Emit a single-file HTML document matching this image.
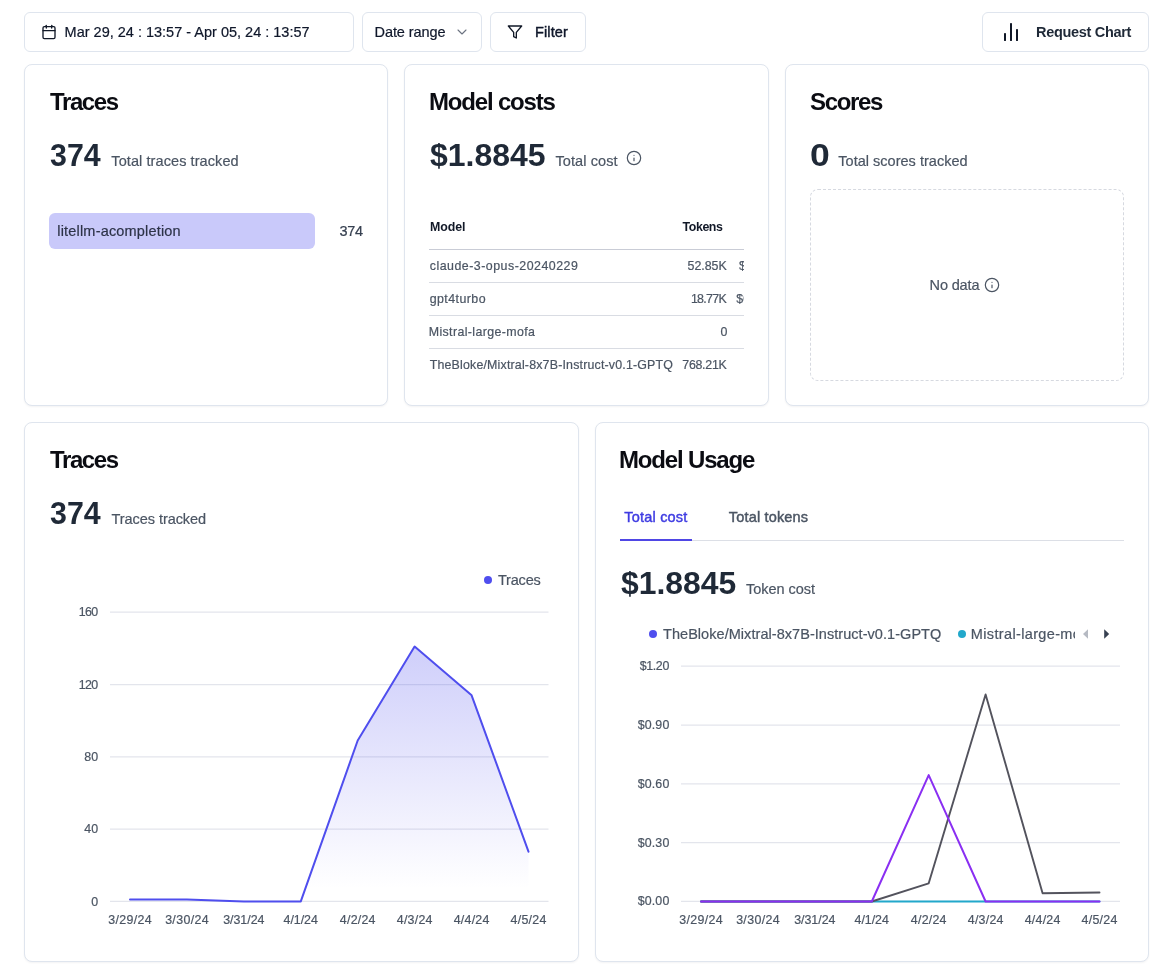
<!DOCTYPE html>
<html lang="en">
<head>
<meta charset="utf-8">
<title>Dashboard</title>
<style>
*{box-sizing:border-box;margin:0;padding:0}
html,body{width:1160px;height:971px;background:#fff;overflow:hidden}
body{position:relative;font-family:"Liberation Sans", Arial, sans-serif;color:#4b5563;-webkit-font-smoothing:antialiased}
.t{position:absolute;white-space:nowrap;line-height:1;display:block}
.abs{position:absolute}
.btn{position:absolute;top:12px;height:40px;border:1px solid #dfe5ee;border-radius:6px;background:#fff}
.card{position:absolute;border:1px solid #dfe5ee;border-radius:8px;background:#fff;box-shadow:0 1px 2px rgba(15,23,42,.05)}
svg{position:absolute;overflow:visible}
button{font:inherit;color:inherit;padding:0;margin:0;cursor:pointer}
h2{margin:0}
.hr{position:absolute;height:1px;background:#d9dce3}
</style>
</head>
<body>
<header>
<button class="btn" style="left:24px;width:330px" type="button"><svg style="left:16px;top:11px" width="16" height="16" viewBox="0 0 24 24" fill="none" stroke="#111827" stroke-width="2" stroke-linecap="round" stroke-linejoin="round"><rect x="3" y="4" width="18" height="18" rx="2" ry="2"/><line x1="16" y1="2" x2="16" y2="6"/><line x1="8" y1="2" x2="8" y2="6"/><line x1="3" y1="10" x2="21" y2="10"/></svg><span class="t" style="left:39.60px;top:12px;font-size:14.5px;font-weight:400;color:#0f172a;letter-spacing:-0.002px;-webkit-text-stroke:0.2px #0f172a">Mar 29, 24 : 13:57 - Apr 05, 24 : 13:57</span></button>
<button class="btn" style="left:362px;width:120px" type="button"><span class="t" style="left:11.60px;top:12px;font-size:14.5px;font-weight:400;color:#0f172a;letter-spacing:-0.098px;-webkit-text-stroke:0.2px #0f172a">Date range</span><svg style="left:91px;top:11px" width="16" height="16" viewBox="0 0 24 24" fill="none" stroke="#6b7280" stroke-width="1.6" stroke-linecap="round" stroke-linejoin="round"><path d="m6 9 6 6 6-6"/></svg></button>
<button class="btn" style="left:490px;width:96px" type="button"><svg style="left:16px;top:11px" width="16" height="16" viewBox="0 0 24 24" fill="none" stroke="#111827" stroke-width="2" stroke-linecap="round" stroke-linejoin="round"><polygon points="22 3 2 3 10 12.46 10 19 14 21 14 12.46 22 3"/></svg><span class="t" style="left:44.00px;top:12px;font-size:14.5px;font-weight:400;color:#0f172a;letter-spacing:0.121px;-webkit-text-stroke:0.42px #0f172a">Filter</span></button>
<button class="btn" style="left:982px;width:167px" type="button"><svg style="left:0;top:0" width="60" height="40" viewBox="0 0 60 40"><g fill="#111827"><rect x="21" y="20" width="2" height="8" rx=".4"/><rect x="27" y="10" width="2" height="18" rx=".4"/><rect x="33" y="16" width="2" height="12" rx=".4"/></g></svg><span class="t" style="left:53.00px;top:12px;font-size:14.5px;font-weight:700;color:#1f2937;letter-spacing:-0.314px">Request Chart</span></button>
</header>
<main>
<section class="card" style="left:24px;top:64px;width:364px;height:342px">
<h2 class="t" style="left:25.00px;top:25px;font-size:24px;font-weight:700;color:#0b0c12;letter-spacing:-1.384px">Traces</h2>
<span class="t" style="left:25.10px;top:75px;font-size:31px;font-weight:700;color:#1f2937;transform:scaleX(0.9794);transform-origin:0 0">374</span>
<span class="t" style="left:86.30px;top:89px;font-size:14.5px;font-weight:400;color:#4b5563;letter-spacing:0.086px;-webkit-text-stroke:0.2px #4b5563">Total traces tracked</span>
<div class="abs" style="left:24px;top:148px;width:266px;height:36px;border-radius:6px;background:#c9c9fa"></div>
<span class="t" style="left:32.30px;top:159px;font-size:14.5px;font-weight:400;color:#2d3348;letter-spacing:0.183px;-webkit-text-stroke:0.2px #2d3348">litellm-acompletion</span>
<span class="t" style="left:314.60px;top:159px;font-size:14.5px;font-weight:400;color:#374151;letter-spacing:-0.364px;-webkit-text-stroke:0.2px #374151">374</span>
</section>
<section class="card" style="left:404px;top:64px;width:365px;height:342px">
<h2 class="t" style="left:24.00px;top:25px;font-size:24px;font-weight:700;color:#0b0c12;letter-spacing:-1.184px">Model costs</h2>
<span class="t" style="left:25.40px;top:75px;font-size:31px;font-weight:700;color:#1f2937;transform:scaleX(1.0320);transform-origin:0 0">$1.8845</span>
<span class="t" style="left:150.50px;top:89px;font-size:14.5px;font-weight:400;color:#4b5563;letter-spacing:0.087px;-webkit-text-stroke:0.2px #4b5563">Total cost</span>
<svg style="left:221px;top:85.3px" width="16" height="16" viewBox="0 0 24 24" fill="none" stroke="#4b5563" stroke-width="1.8" stroke-linecap="round" stroke-linejoin="round"><circle cx="12" cy="12" r="10"/><path d="M12 16v-4"/><path d="M12 8h.01"/></svg>
<div class="abs" style="left:24px;top:140px;width:315px;height:180px;overflow:hidden">
<span class="t" style="left:1.00px;top:16px;font-size:12.4px;font-weight:700;color:#111827;letter-spacing:-0.087px">Model</span>
<span class="t" style="left:253.60px;top:16px;font-size:12.4px;font-weight:700;color:#111827;letter-spacing:-0.434px">Tokens</span>
<div class="hr" style="left:0;top:44px;width:315px;background:#c9ccd6"></div>
<span class="t" style="left:0.70px;top:55px;font-size:12.4px;font-weight:400;color:#4b5563;letter-spacing:0.496px;-webkit-text-stroke:0.2px #4b5563">claude-3-opus-20240229</span><span class="t" style="left:258.50px;top:55px;font-size:12.4px;font-weight:400;color:#4b5563;letter-spacing:-0.001px;-webkit-text-stroke:0.2px #4b5563">52.85K</span><span class="t" style="left:309.90px;top:55px;font-size:12.4px;font-weight:400;color:#4b5563;-webkit-text-stroke:0.2px #4b5563">$1.5</span>
<div class="hr" style="left:0;top:77px;width:315px"></div>
<span class="t" style="left:0.70px;top:88px;font-size:12.4px;font-weight:400;color:#4b5563;letter-spacing:0.442px;-webkit-text-stroke:0.2px #4b5563">gpt4turbo</span><span class="t" style="left:261.90px;top:88px;font-size:12.4px;font-weight:400;color:#4b5563;letter-spacing:-0.681px;-webkit-text-stroke:0.2px #4b5563">18.77K</span><span class="t" style="left:307.30px;top:88px;font-size:12.4px;font-weight:400;color:#4b5563;-webkit-text-stroke:0.2px #4b5563">$0.</span>
<div class="hr" style="left:0;top:110px;width:315px"></div>
<span class="t" style="left:-0.30px;top:121px;font-size:12.4px;font-weight:400;color:#4b5563;letter-spacing:0.374px;-webkit-text-stroke:0.2px #4b5563">Mistral-large-mofa</span><span class="t" style="left:291.50px;top:121px;font-size:12.4px;font-weight:400;color:#4b5563;-webkit-text-stroke:0.2px #4b5563">0</span>
<div class="hr" style="left:0;top:143px;width:315px"></div>
<span class="t" style="left:0.70px;top:154px;font-size:12.4px;font-weight:400;color:#4b5563;letter-spacing:0.181px;-webkit-text-stroke:0.2px #4b5563">TheBloke/Mixtral-8x7B-Instruct-v0.1-GPTQ</span><span class="t" style="left:253.30px;top:154px;font-size:12.4px;font-weight:400;color:#4b5563;letter-spacing:-0.283px;-webkit-text-stroke:0.2px #4b5563">768.21K</span>
</div>
</section>
<section class="card" style="left:785px;top:64px;width:364px;height:342px">
<h2 class="t" style="left:24.00px;top:25px;font-size:24px;font-weight:700;color:#0b0c12;letter-spacing:-1.341px">Scores</h2>
<span class="t" style="left:23.65px;top:75px;font-size:31px;font-weight:700;color:#1f2937;transform:scaleX(1.1467);transform-origin:0 0">0</span>
<span class="t" style="left:52.30px;top:89px;font-size:14.5px;font-weight:400;color:#4b5563;letter-spacing:0.017px;-webkit-text-stroke:0.2px #4b5563">Total scores tracked</span>
<div class="abs" style="left:24px;top:124px;width:314px;height:192px;border:1px dashed #d6d9e0;border-radius:8px"></div>
<span class="t" style="left:143.60px;top:213px;font-size:14.5px;font-weight:400;color:#4b5563;letter-spacing:-0.154px;-webkit-text-stroke:0.2px #4b5563">No data</span>
<svg style="left:198px;top:212px" width="16" height="16" viewBox="0 0 24 24" fill="none" stroke="#4b5563" stroke-width="1.8" stroke-linecap="round" stroke-linejoin="round"><circle cx="12" cy="12" r="10"/><path d="M12 16v-4"/><path d="M12 8h.01"/></svg>
</section>
<section class="card" style="left:24px;top:422px;width:555px;height:540px">
<h2 class="t" style="left:25.00px;top:25px;font-size:24px;font-weight:700;color:#0b0c12;letter-spacing:-1.384px">Traces</h2>
<span class="t" style="left:25.10px;top:75px;font-size:31px;font-weight:700;color:#1f2937;transform:scaleX(0.9794);transform-origin:0 0">374</span>
<span class="t" style="left:86.60px;top:89px;font-size:14.5px;font-weight:400;color:#4b5563;letter-spacing:-0.068px;-webkit-text-stroke:0.2px #4b5563">Traces tracked</span>
<div class="abs" style="left:459px;top:153px;width:8px;height:8px;border-radius:50%;background:#4f4eee"></div><span class="t" style="left:473.00px;top:150px;font-size:14.5px;font-weight:400;color:#4b5563;letter-spacing:-0.205px;-webkit-text-stroke:0.2px #4b5563">Traces</span>
<svg style="left:0px;top:0px" width="552" height="538" viewBox="25 423 552 538">
<defs><linearGradient id="ga" x1="0" y1="0" x2="0" y2="1"><stop offset="5%" stop-color="#4f4eee" stop-opacity=".26"/><stop offset="95%" stop-color="#4f4eee" stop-opacity="0"/></linearGradient></defs>
<line x1="110" x2="548.5" y1="612.2" y2="612.2" stroke="#e3e5ec" stroke-width="1.25"/><line x1="110" x2="548.5" y1="684.5" y2="684.5" stroke="#e3e5ec" stroke-width="1.25"/><line x1="110" x2="548.5" y1="756.8" y2="756.8" stroke="#e3e5ec" stroke-width="1.25"/><line x1="110" x2="548.5" y1="829.1" y2="829.1" stroke="#e3e5ec" stroke-width="1.25"/><line x1="110" x2="548.5" y1="901.4" y2="901.4" stroke="#e3e5ec" stroke-width="1.25"/>
<path d="M130.0,899.6 L186.9,899.6 L243.9,901.4 L300.8,901.4 L357.7,740.5 L414.6,646.5 L471.6,695.3 L528.5,851.7 L528.5,901.4 L130.0,901.4 Z" fill="url(#ga)"/>
<path d="M130.0,899.6 L186.9,899.6 L243.9,901.4 L300.8,901.4 L357.7,740.5 L414.6,646.5 L471.6,695.3 L528.5,851.7" fill="none" stroke="#4f4eee" stroke-width="2" stroke-linejoin="round" stroke-linecap="round"/>
</svg>
<span class="t" style="left:53.80px;top:183px;font-size:12.4px;font-weight:400;color:#4b5563;letter-spacing:-0.641px;-webkit-text-stroke:0.2px #4b5563">160</span><span class="t" style="left:53.80px;top:256px;font-size:12.4px;font-weight:400;color:#4b5563;letter-spacing:-0.641px;-webkit-text-stroke:0.2px #4b5563">120</span><span class="t" style="left:59.20px;top:328px;font-size:12.4px;font-weight:400;color:#4b5563;letter-spacing:0.209px;-webkit-text-stroke:0.2px #4b5563">80</span><span class="t" style="left:59.20px;top:400px;font-size:12.4px;font-weight:400;color:#4b5563;letter-spacing:0.209px;-webkit-text-stroke:0.2px #4b5563">40</span><span class="t" style="left:66.30px;top:473px;font-size:12.4px;font-weight:400;color:#4b5563;-webkit-text-stroke:0.2px #4b5563">0</span>
<span class="t" style="left:83.30px;top:491px;font-size:12.4px;font-weight:400;color:#4b5563;letter-spacing:0.325px;-webkit-text-stroke:0.2px #4b5563">3/29/24</span><span class="t" style="left:140.13px;top:491px;font-size:12.4px;font-weight:400;color:#4b5563;letter-spacing:0.358px;-webkit-text-stroke:0.2px #4b5563">3/30/24</span><span class="t" style="left:198.21px;top:491px;font-size:12.4px;font-weight:400;color:#4b5563;letter-spacing:-0.025px;-webkit-text-stroke:0.2px #4b5563">3/31/24</span><span class="t" style="left:258.59px;top:491px;font-size:12.4px;font-weight:400;color:#4b5563;letter-spacing:-0.032px;-webkit-text-stroke:0.2px #4b5563">4/1/24</span><span class="t" style="left:314.82px;top:491px;font-size:12.4px;font-weight:400;color:#4b5563;letter-spacing:0.248px;-webkit-text-stroke:0.2px #4b5563">4/2/24</span><span class="t" style="left:371.75px;top:491px;font-size:12.4px;font-weight:400;color:#4b5563;letter-spacing:0.248px;-webkit-text-stroke:0.2px #4b5563">4/3/24</span><span class="t" style="left:428.68px;top:491px;font-size:12.4px;font-weight:400;color:#4b5563;letter-spacing:0.248px;-webkit-text-stroke:0.2px #4b5563">4/4/24</span><span class="t" style="left:485.46px;top:491px;font-size:12.4px;font-weight:400;color:#4b5563;letter-spacing:0.308px;-webkit-text-stroke:0.2px #4b5563">4/5/24</span>
</section>
<section class="card" style="left:595px;top:422px;width:554px;height:540px">
<h2 class="t" style="left:23.00px;top:25px;font-size:24px;font-weight:700;color:#0b0c12;letter-spacing:-1.168px">Model Usage</h2>
<span class="t" style="left:28.30px;top:87px;font-size:14.5px;font-weight:400;color:#3f3ce2;letter-spacing:0.198px;-webkit-text-stroke:0.45px #3f3ce2">Total cost</span>
<span class="t" style="left:132.80px;top:87px;font-size:14.5px;font-weight:400;color:#4b5563;letter-spacing:0.170px;-webkit-text-stroke:0.45px #4b5563">Total tokens</span>
<div class="hr" style="left:24px;top:117px;width:504px;background:#dcdfe6"></div><div class="abs" style="left:24px;top:116px;width:72px;height:2px;background:#4f46e5"></div>
<span class="t" style="left:25.00px;top:145px;font-size:31px;font-weight:700;color:#1f2937;transform:scaleX(1.0285);transform-origin:0 0">$1.8845</span>
<span class="t" style="left:150.00px;top:159px;font-size:14.5px;font-weight:400;color:#4b5563;letter-spacing:-0.032px;-webkit-text-stroke:0.2px #4b5563">Token cost</span>
<div class="abs" style="left:44px;top:199px;width:435px;height:24px;overflow:hidden"><div class="abs" style="left:9.2px;top:8px;width:8px;height:8px;border-radius:50%;background:#4f4eee"></div><span class="t" style="left:23.00px;top:5px;font-size:14.5px;font-weight:400;color:#4b5563;letter-spacing:0.049px;-webkit-text-stroke:0.2px #4b5563">TheBloke/Mixtral-8x7B-Instruct-v0.1-GPTQ</span><div class="abs" style="left:318.2px;top:8px;width:8px;height:8px;border-radius:50%;background:#22a8cb"></div><span class="t" style="left:330.80px;top:5px;font-size:14.5px;font-weight:400;color:#4b5563;letter-spacing:0.355px;-webkit-text-stroke:0.2px #4b5563">Mistral-large-mofa</span></div>
<svg style="left:0;top:0" width="552" height="538" viewBox="596 423 552 538">
<path d="M1083,634 L1088,629.2 L1088,638.8 Z" fill="#b6bac3"/><path d="M1109.2,634 L1104.2,629.2 L1104.2,638.8 Z" fill="#374151"/>
<line x1="681" x2="1120" y1="666.2" y2="666.2" stroke="#e3e5ec" stroke-width="1.25"/><line x1="681" x2="1120" y1="725" y2="725" stroke="#e3e5ec" stroke-width="1.25"/><line x1="681" x2="1120" y1="783.8" y2="783.8" stroke="#e3e5ec" stroke-width="1.25"/><line x1="681" x2="1120" y1="842.6" y2="842.6" stroke="#e3e5ec" stroke-width="1.25"/><line x1="681" x2="1120" y1="901.4" y2="901.4" stroke="#e3e5ec" stroke-width="1.25"/>
<path d="M701.0,901.5 L757.9,901.5 L814.9,901.5 L871.8,901.5 L928.7,901.5 L985.6,901.5 L1042.6,901.5 L1099.5,901.5" fill="none" stroke="#22a8cb" stroke-width="2" stroke-linejoin="round" stroke-linecap="round"/>
<path d="M701.0,901.5 L757.9,901.5 L814.9,901.5 L871.8,901.5 L928.7,883.3 L985.6,694.5 L1042.6,893.3 L1099.5,892.5" fill="none" stroke="#53535d" stroke-width="1.9" stroke-linejoin="round" stroke-linecap="round"/>
<path d="M701.0,901.5 L757.9,901.5 L814.9,901.5 L871.8,901.5 L928.7,775.1 L985.6,901.5 L1042.6,901.5 L1099.5,901.5" fill="none" stroke="#8a2ff2" stroke-width="2" stroke-linejoin="round" stroke-linecap="round"/>
</svg>
<span class="t" style="left:43.70px;top:237px;font-size:12.4px;font-weight:400;color:#4b5563;letter-spacing:-0.354px;-webkit-text-stroke:0.2px #4b5563">$1.20</span><span class="t" style="left:41.70px;top:296px;font-size:12.4px;font-weight:400;color:#4b5563;letter-spacing:0.146px;-webkit-text-stroke:0.2px #4b5563">$0.90</span><span class="t" style="left:41.70px;top:355px;font-size:12.4px;font-weight:400;color:#4b5563;letter-spacing:0.146px;-webkit-text-stroke:0.2px #4b5563">$0.60</span><span class="t" style="left:41.70px;top:414px;font-size:12.4px;font-weight:400;color:#4b5563;letter-spacing:0.146px;-webkit-text-stroke:0.2px #4b5563">$0.30</span><span class="t" style="left:41.70px;top:472px;font-size:12.4px;font-weight:400;color:#4b5563;letter-spacing:0.146px;-webkit-text-stroke:0.2px #4b5563">$0.00</span>
<span class="t" style="left:83.30px;top:491px;font-size:12.4px;font-weight:400;color:#4b5563;letter-spacing:0.325px;-webkit-text-stroke:0.2px #4b5563">3/29/24</span><span class="t" style="left:140.13px;top:491px;font-size:12.4px;font-weight:400;color:#4b5563;letter-spacing:0.358px;-webkit-text-stroke:0.2px #4b5563">3/30/24</span><span class="t" style="left:198.21px;top:491px;font-size:12.4px;font-weight:400;color:#4b5563;letter-spacing:-0.025px;-webkit-text-stroke:0.2px #4b5563">3/31/24</span><span class="t" style="left:258.59px;top:491px;font-size:12.4px;font-weight:400;color:#4b5563;letter-spacing:-0.032px;-webkit-text-stroke:0.2px #4b5563">4/1/24</span><span class="t" style="left:314.82px;top:491px;font-size:12.4px;font-weight:400;color:#4b5563;letter-spacing:0.248px;-webkit-text-stroke:0.2px #4b5563">4/2/24</span><span class="t" style="left:371.75px;top:491px;font-size:12.4px;font-weight:400;color:#4b5563;letter-spacing:0.248px;-webkit-text-stroke:0.2px #4b5563">4/3/24</span><span class="t" style="left:428.68px;top:491px;font-size:12.4px;font-weight:400;color:#4b5563;letter-spacing:0.248px;-webkit-text-stroke:0.2px #4b5563">4/4/24</span><span class="t" style="left:485.46px;top:491px;font-size:12.4px;font-weight:400;color:#4b5563;letter-spacing:0.308px;-webkit-text-stroke:0.2px #4b5563">4/5/24</span>
</section>
</main>
</body>
</html>
